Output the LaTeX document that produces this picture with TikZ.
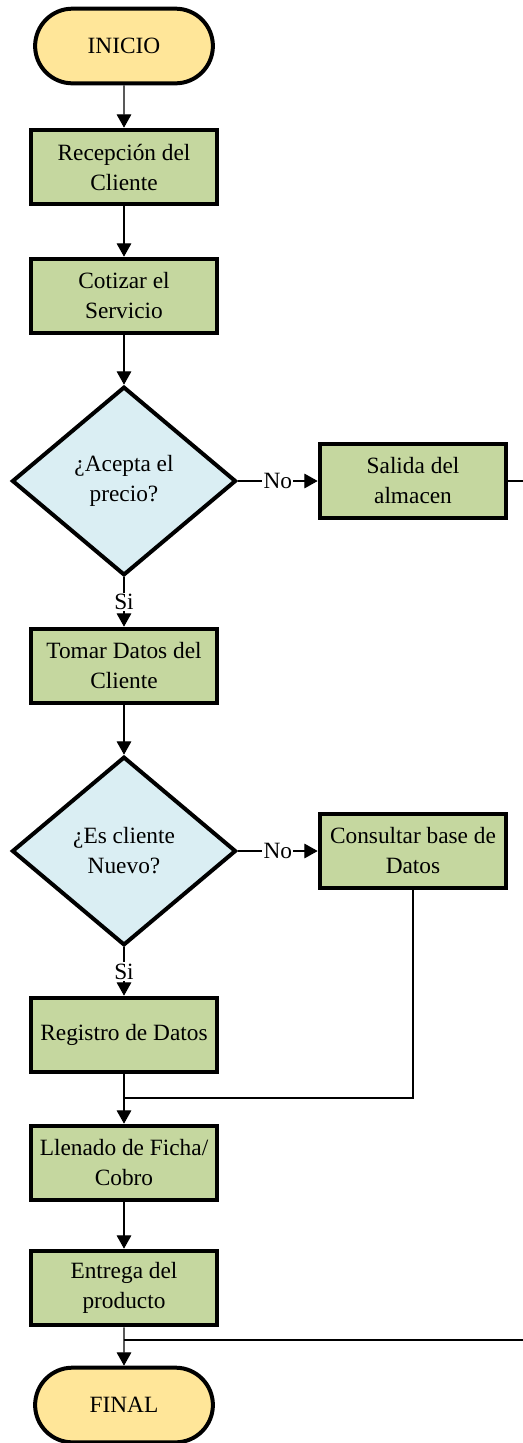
\documentclass[tikz,border=0pt]{standalone}
\usepackage{fontspec}
\setmainfont{Liberation Serif}
\usetikzlibrary{shapes.geometric,shapes.misc,arrows.meta}
\definecolor{inicol}{HTML}{FFE699}
\definecolor{proccol}{HTML}{C5D79F}
\definecolor{deccol}{HTML}{DAEEF3}
\tikzset{
	terminal/.style={rounded rectangle, draw=black, line width=3pt, fill=inicol, minimum width=140pt, minimum height=56pt, font=\fontsize{17.5}{22.5}\selectfont},
	proceso/.style={rectangle, draw=black, line width=3pt, fill=proccol, minimum width=140pt, minimum height=56pt, align=center, inner sep=2pt, font=\fontsize{17.5}{22.5}\selectfont},
	decision/.style={diamond, draw=black, line width=3pt, fill=deccol, minimum width=168pt, minimum height=141.5pt, inner sep=0pt, align=center, font=\fontsize{17.5}{22.5}\selectfont},
	flecha/.style={line width=0.8pt, -{Triangle[width=11pt,length=10pt]}},
	linea/.style={line width=0.8pt},
	etiqueta/.style={fill=white, inner sep=1pt, font=\fontsize{17.5}{22.5}\selectfont}
}

\begin{document}
\begin{tikzpicture}[x=0.75pt,y=-0.75pt]
		\useasboundingbox (0,0) rectangle (523,1443);
		% nodos
		\node[terminal] (ini) at (124,46) {INICIO};
		\node[proceso] (recep) at (124,167) {Recepción del\\Cliente};
		\node[proceso] (cotiz) at (124,296) {Cotizar el\\Servicio};
		\node[decision] (acepta) at (124,481) {¿Acepta el\\precio?};
		\node[proceso] (salida) at (413,481) {Salida del\\almacen};
		\node[proceso] (tomar) at (124,666) {Tomar Datos del\\Cliente};
		\node[decision] (nuevo) at (124,851) {¿Es cliente\\Nuevo?};
		\node[proceso] (consul) at (413,851) {Consultar base de\\Datos};
		\node[proceso] (regis) at (124,1035) {Registro de Datos};
		\node[proceso] (llena) at (124,1163) {Llenado de Ficha/\\Cobro};
		\node[proceso] (entre) at (124,1288) {Entrega del\\producto};
		\node[terminal] (fin) at (124,1405) {FINAL};
		\coordinate (bordeA) at (523,481);
		\coordinate (bordeB) at (523,1340);
		\coordinate (junta) at (124,1098);
		\coordinate (juntaB) at (124,1340);
		% conectores
		\draw[flecha] (ini) -- (recep);
		\draw[flecha] (recep) -- (cotiz);
		\draw[flecha] (cotiz) -- (acepta);
		\draw[flecha] (acepta) -- node[etiqueta] {No} (salida);
		\draw[flecha] (acepta) -- node[etiqueta] {Si} (tomar);
		\draw[linea] (salida) -- (bordeA);
		\draw[flecha] (tomar) -- (nuevo);
		\draw[flecha] (nuevo) -- node[etiqueta] {No} (consul);
		\draw[flecha] (nuevo) -- node[etiqueta] {Si} (regis);
		\draw[flecha] (regis) -- (llena);
		\draw[linea] (consul) |- (junta);
		\draw[flecha] (llena) -- (entre);
		\draw[flecha] (entre) -- (fin);
		\draw[linea] (juntaB) -- (bordeB);
\end{tikzpicture}
\end{document}
